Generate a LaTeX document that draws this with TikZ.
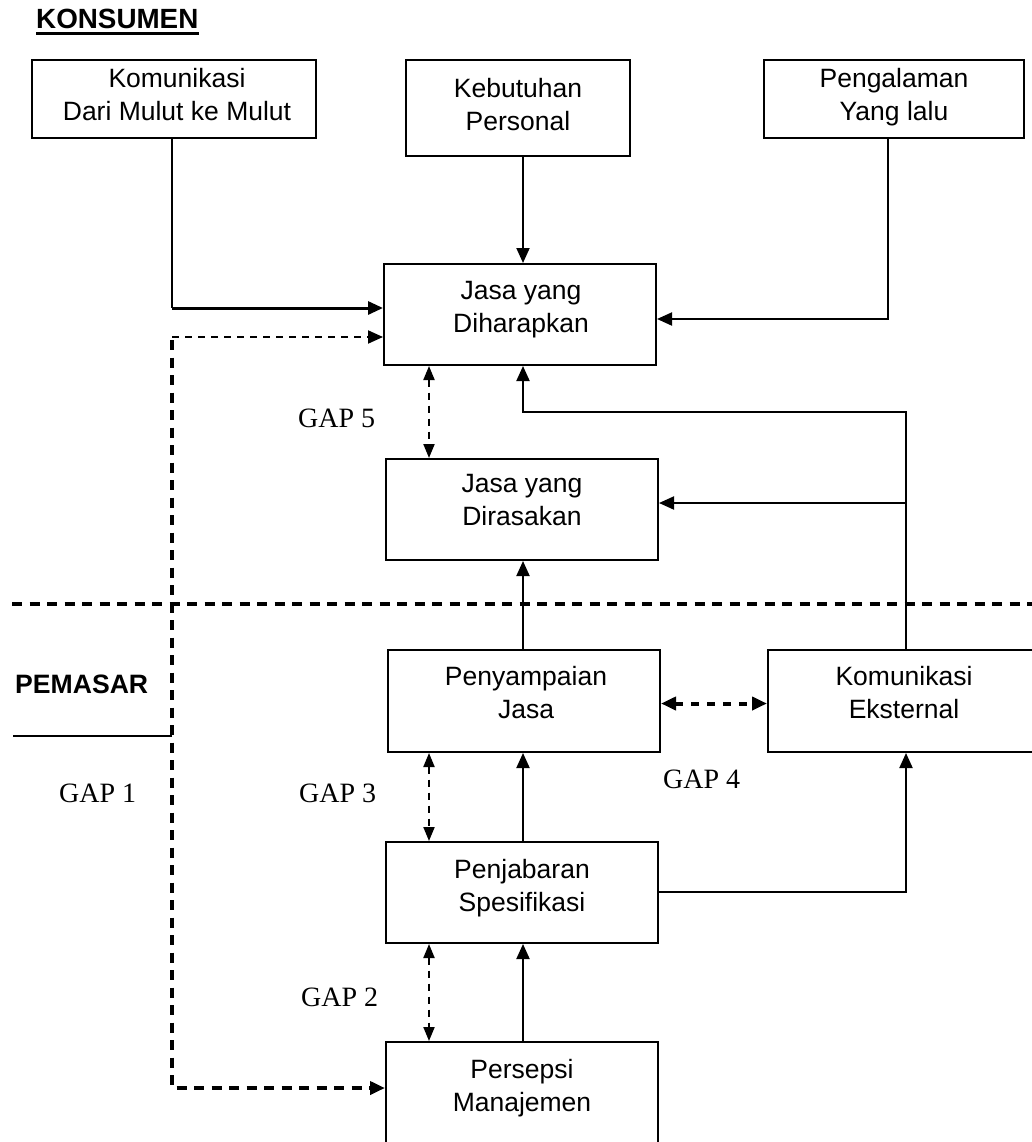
\documentclass[tikz,border=0pt]{standalone}
\usepackage{fontspec}
\setmainfont{Liberation Sans}
\newfontfamily\serifgap{Liberation Serif}
\usetikzlibrary{arrows.meta}
\tikzset{
  tipA/.tip={Triangle[length=15pt,width=13pt]},
  tipB/.tip={Triangle[length=14pt,width=11pt]}
}
\begin{document}
\begin{tikzpicture}[x=1pt,y=-1pt,
  box/.style={draw,line width=2pt,inner sep=0pt},
  txt/.style={font=\fontsize{26.5}{33}\selectfont,align=center,inner sep=0pt,anchor=north},
  gaplbl/.style={font=\serifgap\fontsize{28}{33}\selectfont,inner sep=0pt,anchor=base west},
  head/.style={font=\bfseries\fontsize{27.8}{33}\selectfont,inner sep=0pt,anchor=base west},
  solidarr/.style={line width=2pt,-tipA},
  thinline/.style={line width=2pt},
  gapdash/.style={line width=2pt,dash pattern=on 7pt off 6pt,tipB-tipB},
  gapfour/.style={line width=4pt,dash pattern=on 8pt off 8pt,tipA-tipA},
  bigdash/.style={line width=4pt,dash pattern=on 10pt off 7.5pt},
  smalldash/.style={line width=2pt,dash pattern=on 7pt off 6pt}
]
\useasboundingbox (0,0) rectangle (1032,1142);
\clip (0,0) rectangle (1032,1142);
\fill[white] (0,0) rectangle (1032,1142);

% boxes
\node[box,minimum width=284pt,minimum height=78pt] (kom) at (174,99) {};
\node[box,minimum width=224pt,minimum height=96pt] (keb) at (518,108) {};
\node[box,minimum width=260pt,minimum height=78pt] (peng) at (894,99) {};
\node[box,minimum width=272pt,minimum height=101pt] (jd) at (520,314.5) {};
\node[box,minimum width=272pt,minimum height=101pt] (jr) at (522,509.5) {};
\node[box,minimum width=272pt,minimum height=102pt] (pj) at (524,701) {};
\node[box,minimum width=272pt,minimum height=102pt] (ke) at (904,701) {};
\node[box,minimum width=272pt,minimum height=101pt] (ps) at (522,892.5) {};
\node[box,minimum width=272pt,minimum height=110pt] (pm) at (522,1097) {};

% box texts
\node[txt] (kom-t) at (177,68) {Komunikasi\\Dari Mulut ke Mulut};
\node[txt] (keb-t) at (518,78) {Kebutuhan\\Personal};
\node[txt] (peng-t) at (894,68) {Pengalaman\\Yang lalu};
\node[txt] (jd-t) at (521,281) {Jasa yang\\Diharapkan};
\node[txt] (jr-t) at (522,474) {Jasa yang\\Dirasakan};
\node[txt] (pj-t) at (526,666) {Penyampaian\\Jasa};
\node[txt] (ke-t) at (904,666) {Komunikasi\\Eksternal};
\node[txt] (ps-t) at (522,859) {Penjabaran\\Spesifikasi};
\node[txt] (pm-t) at (522,1059) {Persepsi\\Manajemen};

% headings and gap labels
\node[head] (kons) at (36,29) {KONSUMEN};
\draw[line width=2.5pt] ([yshift=-4.5pt]kons.base west) -- ([yshift=-4.5pt]kons.base east);
\node[head,font=\bfseries\fontsize{26.6}{33}\selectfont] (pem) at (15,693) {PEMASAR};
\node[gaplbl] (g5) at (298,427) {GAP 5};
\node[gaplbl] (g1) at (59,802) {GAP 1};
\node[gaplbl] (g3) at (299,802) {GAP 3};
\node[gaplbl] (g4) at (663,788) {GAP 4};
\node[gaplbl] (g2) at (301,1006) {GAP 2};

% helper coordinates
\coordinate (cx) at (523,0);
\coordinate (gx) at (429,0);
\coordinate (m1) at (172,308);
\coordinate (pc) at (888,319);
\coordinate (ex) at (906,412);
\coordinate (ex2) at (906,503);
\coordinate (sy) at (906,892);
\coordinate (g1top) at (172,337);
\coordinate (g1a) at (172,340);
\coordinate (g1b) at (172,1088);
\coordinate (gy) at (0,703.5);

% divider
\draw[bigdash] (12,604) -- (1032,604);
\draw[thinline] (13,736) -- (g1a |- 0,736);

% consumer side
\draw[thinline] (m1 |- kom.south) -- (m1);
\draw[line width=3pt,-tipA] (m1) -- (m1 -| jd.west);
\draw[solidarr] (cx |- keb.south) -- (cx |- jd.north);
\draw[solidarr] (pc |- peng.south) -- (pc) -- (pc -| jd.east);

% external communication
\draw[solidarr] (ex |- ke.north) -- (ex) -- (ex -| cx) -- (cx |- jd.south);
\draw[solidarr] (ex2) -- (ex2 -| jr.east);
\draw[solidarr] (sy -| ps.east) -- (sy) -- (sy |- ke.south);

% central chain
\draw[solidarr] (cx |- pj.north) -- (cx |- jr.south);
\draw[solidarr] (cx |- ps.north) -- (cx |- pj.south);
\draw[solidarr] (cx |- pm.north) -- (cx |- ps.south);

% gaps
\draw[gapdash] (gx |- jd.south) -- (gx |- jr.north);
\draw[gapdash] (gx |- pj.south) -- (gx |- ps.north);
\draw[gapdash] (gx |- ps.south) -- (gx |- pm.north);
\draw[gapfour] (gy -| pj.east) -- (gy -| ke.west);

% gap 1
\draw[smalldash,-tipA] (g1top) -- (g1top -| jd.west);
\draw[bigdash,-tipA] (g1a) -- (g1b) -- (g1b -| pm.west);
\end{tikzpicture}
\end{document}
